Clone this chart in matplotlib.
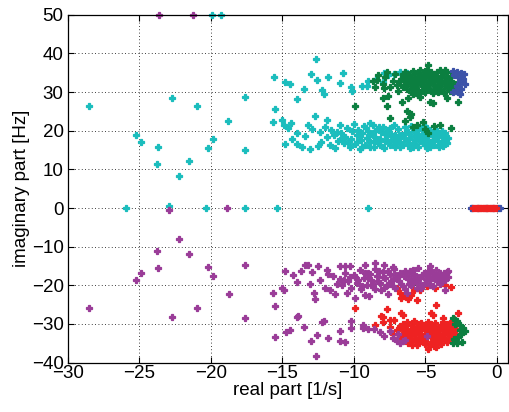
import matplotlib
matplotlib.use("Agg")
import matplotlib.pyplot as plt

# pole estimates (real part [1/s], imaginary part [Hz])
cyan_pts = [
    (-28.5, 26.3), (-22.7, 28.6), (-21.0, 26.3), (-17.6, 28.8), (-25.2, 18.9), (-24.9, 17.0),
    (-23.7, 15.8), (-23.8, 11.3), (-22.25, 8.4), (-21.5, 12.1), (-20.2, 15.5), (-19.85, 17.9),
    (-18.8, 22.6), (-17.6, 15.0), (-15.6, 33.8), (-15.5, 25.7), (-15.65, 22.3), (-14.8, 32.6),
    (-14.5, 32.2), (-13.95, 28.3), (-13.5, 30.9), (-13.0, 34.7), (-12.65, 38.6), (-12.6, 33.1),
    (-12.2, 30.5), (-12.1, 29.6), (-11.8, 33.8), (-11.0, 32.3), (-10.75, 35.0), (-10.2, 31.2),
    (-10.1, 30.4), (-9.4, 31.6), (-9.1, 31.6), (-8.45, 33.5), (-8.0, 32.5), (-7.65, 34.4),
    (-7.2, 34.7), (-6.8, 35.3), (-6.3, 35.0), (-5.0, 33.3), (-9.0, 33.0), (-7.9, 34.9),
    (-19.9, 50), (-19.3, 50),
    (-25.9, 0), (-22.9, 0.6), (-20.35, 0), (-17.6, 0), (-15.35, 0), (-9.0, 0),
    (-15.0, 22.8), (-14.9, 21.4), (-14.6, 20.7), (-14.4, 22.0), (-14.3, 17.9), (-14.0, 19.4),
    (-14.0, 16.6), (-13.4, 18.7), (-13.1, 15.2), (-12.7, 23.9), (-14.85, 16.5), (-11.9, 22.8),
    (-13.6, 15.9), (-12.9, 20.5), (-12.5, 16.0), (-13.2, 21.6),
    (-12.4, 19.8), (-12.3, 17.1), (-12.0, 21.0), (-11.9, 18.3), (-11.7, 16.2), (-11.6, 20.1),
    (-11.4, 18.9), (-11.3, 15.5), (-11.1, 17.4), (-11.0, 21.6), (-10.9, 19.5), (-10.7, 16.8),
    (-10.6, 18.4), (-10.5, 20.6), (-10.3, 15.7), (-10.2, 17.9), (-10.1, 19.9), (-10.0, 21.8),
    (-9.9, 16.5), (-9.8, 18.8), (-9.7, 20.3), (-9.6, 15.3), (-9.5, 17.5), (-9.4, 19.4),
    (-9.3, 21.1), (-9.2, 16.3), (-9.1, 18.1), (-9.0, 20.0), (-8.9, 17.0), (-8.8, 19.2),
    (-8.7, 21.5), (-8.6, 15.8), (-8.5, 18.5), (-8.4, 20.4), (-8.3, 16.9), (-8.2, 17.9),
    (-8.1, 19.6), (-8.0, 21.0), (-7.9, 15.6), (-7.8, 17.3), (-7.7, 18.7), (-7.6, 20.1),
    (-7.5, 16.4), (-7.4, 19.2), (-7.3, 17.8), (-7.2, 21.4), (-7.1, 15.9), (-7.0, 18.3),
    (-6.9, 20.4), (-6.8, 17.1), (-6.7, 19.0), (-6.6, 16.2), (-6.5, 18.0), (-6.4, 20.9),
    (-6.3, 17.4), (-6.2, 19.6), (-6.1, 15.6), (-6.0, 18.6), (-5.9, 16.8), (-5.8, 20.0),
    (-5.7, 17.7), (-5.6, 19.1), (-5.5, 15.8), (-5.4, 18.2), (-5.3, 20.6), (-5.2, 16.9),
    (-5.1, 19.4), (-5.0, 17.6), (-4.9, 15.6), (-4.8, 18.7), (-4.7, 20.2), (-4.6, 17.0),
    (-4.5, 19.0), (-4.4, 16.2), (-4.3, 18.1), (-4.2, 20.0), (-4.1, 17.3), (-4.0, 19.2),
    (-3.9, 16.6), (-3.8, 18.4), (-3.7, 17.5), (-3.6, 19.5), (-3.5, 16.8), (-3.4, 18.0),
    (-8.95, 18.9), (-8.25, 20.9), (-7.55, 17.0), (-6.85, 18.6), (-6.25, 16.5), (-5.65, 18.4),
    (-5.05, 16.4), (-4.45, 17.6), (-3.85, 19.9), (-7.05, 16.7), (-5.35, 17.3), (-4.65, 15.9),
    (-9.75, 17.2), (-9.45, 15.9), (-9.15, 20.6), (-8.85, 15.9), (-8.55, 19.9), (-8.15, 16.3),
    (-7.85, 19.2), (-7.45, 20.8), (-7.15, 18.9), (-6.75, 15.8), (-6.45, 19.5), (-6.15, 17.9),
    (-5.85, 15.9), (-5.55, 20.3), (-5.25, 18.6), (-4.95, 20.6), (-4.75, 16.8), (-4.35, 19.6),
    (-4.05, 15.9), (-3.75, 16.1), (-3.55, 17.9), (-8.6, 17.3), (-7.0, 17.2), (-5.75, 16.5),
    (-4.15, 18.6), (-10.4, 17.2), (-10.8, 18.0), (-11.2, 19.7), (-9.55, 18.6), (-6.0, 21.2),
    (-5.05, 21.1), (-8.9, 21.9),
]

green_upper = [
    (-6.4, 35.2), (-5.9, 35.5), (-5.5, 35.0), (-5.0, 35.4), (-4.6, 35.1), (-4.2, 35.3),
    (-3.8, 35.0), (-3.5, 35.2), (-6.6, 34.0), (-6.2, 34.3), (-5.8, 33.9), (-5.4, 34.2),
    (-5.0, 34.0), (-4.7, 34.4), (-4.3, 33.9), (-3.9, 34.2), (-3.5, 33.8), (-3.2, 34.1),
    (-6.8, 33.0), (-6.4, 32.8), (-6.0, 33.2), (-5.6, 32.9), (-5.2, 33.1), (-4.8, 32.7),
    (-4.4, 33.2), (-4.0, 32.9), (-3.6, 33.0), (-3.2, 32.8), (-6.5, 31.8), (-6.1, 32.1),
    (-5.7, 31.7), (-5.3, 32.0), (-4.9, 31.8), (-4.5, 32.1), (-4.1, 31.8), (-3.7, 32.0),
    (-3.3, 31.7), (-2.9, 32.2), (-6.3, 30.9), (-5.9, 31.0), (-5.5, 30.6), (-5.1, 30.9),
    (-4.7, 30.5), (-4.3, 30.9), (-3.9, 30.7), (-3.5, 31.0), (-3.1, 30.8), (-6.0, 30.0),
    (-5.5, 29.8), (-5.0, 30.1), (-4.5, 29.7), (-4.1, 30.0), (-3.7, 29.8),
    (-6.2, 34.8), (-5.7, 34.6), (-5.2, 34.7), (-4.9, 35.8), (-4.4, 34.6), (-4.0, 35.6),
    (-3.7, 34.7), (-6.0, 33.6), (-5.5, 33.5), (-4.6, 33.6), (-4.2, 33.5), (-3.4, 33.4),
    (-6.3, 32.4), (-5.4, 32.4), (-4.7, 32.3), (-3.9, 32.4), (-3.5, 32.5), (-5.8, 31.3),
    (-5.0, 31.4), (-4.2, 31.3), (-3.4, 31.4), (-5.2, 30.4), (-4.4, 30.3),
    (-6.55, 34.7), (-6.35, 33.4), (-5.75, 32.3), (-5.25, 33.6), (-4.85, 34.8), (-4.5, 33.0),
    (-3.95, 33.7), (-3.45, 32.0), (-5.65, 30.2), (-4.85, 30.7), (-4.05, 30.4), (-3.3, 30.3),
    (-5.35, 35.7), (-6.6, 31.3), (-5.9, 29.4), (-3.6, 35.7),
    (-8.7, 33.0), (-8.3, 34.5), (-8.0, 32.0), (-7.8, 33.8), (-7.5, 31.2), (-7.3, 32.8),
    (-7.1, 34.6), (-7.0, 31.8), (-6.9, 30.4), (-6.7, 33.5), (-7.7, 35.3), (-8.4, 33.2),
    (-8.5, 31.4), (-7.9, 31.0), (-4.8, 37.0),
    (-7.95, 28.4), (-7.6, 28.9), (-6.65, 27.5), (-5.5, 29.2), (-5.4, 28.8), (-4.7, 27.5),
    (-4.5, 27.2), (-3.5, 28.4), (-2.7, 27.5), (-9.93, 26.3), (-7.7, 26.5), (-6.2, 28.6),
    (-7.5, 23.4), (-6.3, 25.0), (-6.1, 23.5), (-6.0, 24.4), (-5.6, 21.5), (-5.2, 22.2),
    (-5.0, 20.5), (-4.4, 21.3), (-4.0, 21.4), (-3.2, 20.8), (-4.8, 19.5), (-6.4, 22.5),
    (-5.9, 21.0),
]

blue_upper = [
    (-3.1, 35.5), (-2.8, 35.3), (-2.5, 35.0), (-2.3, 34.6), (-3.0, 34.4), (-2.7, 34.0),
    (-2.4, 33.5), (-2.6, 32.7), (-2.2, 32.0), (-2.8, 31.5), (-2.5, 30.9), (-2.85, 30.2),
    (-3.1, 29.9), (-2.6, 29.6),
]

blue_axis_x = [-1.8, -1.75, -1.3, -0.8, -0.3, 0.1, 0.2]
red_axis_x = [-1.7, -1.55, -1.4, -1.3, -1.2, -1.1, -1.0, -0.9, -0.8, -0.7, -0.6, -0.5,
              -0.4, -0.3, -0.2, -0.1]

red_pts = [
    (-6.3, -29.6), (-5.8, -29.3), (-5.3, -29.7), (-4.8, -29.4), (-4.3, -29.8), (-3.8, -29.5),
    (-3.3, -29.7), (-6.8, -30.5), (-6.4, -30.8), (-6.0, -30.3), (-5.6, -30.7), (-5.2, -30.4),
    (-4.8, -30.8), (-4.4, -30.5), (-4.0, -30.8), (-3.6, -30.4), (-3.2, -30.7), (-2.9, -30.3),
    (-7.0, -31.6), (-6.6, -31.4), (-6.2, -31.8), (-5.8, -31.5), (-5.4, -31.7), (-5.0, -31.4),
    (-4.6, -31.8), (-4.2, -31.5), (-3.8, -31.7), (-3.4, -31.4), (-3.0, -31.8), (-6.9, -32.6),
    (-6.5, -32.4), (-6.1, -32.8), (-5.7, -32.5), (-5.3, -32.7), (-4.9, -32.4), (-4.5, -32.8),
    (-4.1, -32.5), (-3.7, -32.7), (-3.3, -32.4), (-2.9, -32.6), (-6.6, -33.6), (-6.2, -33.4),
    (-5.8, -33.7), (-5.4, -33.5), (-5.0, -33.8), (-4.6, -33.4), (-4.2, -33.7), (-3.8, -33.5),
    (-3.4, -33.6), (-3.0, -33.4), (-6.0, -34.5), (-5.5, -34.8), (-5.0, -34.4), (-4.5, -34.7),
    (-4.0, -34.5), (-3.5, -34.6), (-5.6, -35.5), (-5.0, -35.3), (-4.4, -35.6), (-3.9, -35.3),
    (-6.6, -30.1), (-5.5, -30.0), (-4.6, -30.0), (-3.5, -30.0), (-6.4, -31.2), (-5.2, -31.1),
    (-4.0, -31.2), (-3.1, -31.1), (-6.0, -32.1), (-4.7, -32.1), (-3.5, -32.1), (-6.3, -33.1),
    (-5.1, -33.0), (-3.9, -33.1), (-5.7, -34.1), (-4.3, -34.1), (-3.2, -34.0),
    (-6.8, -31.0), (-6.4, -32.0), (-6.8, -33.1), (-5.9, -31.0), (-5.6, -32.0), (-5.3, -33.3),
    (-4.9, -30.3), (-4.5, -31.2), (-4.3, -32.3), (-3.9, -30.2), (-3.6, -31.2), (-3.2, -33.1),
    (-2.85, -31.4), (-5.3, -34.5), (-4.7, -35.1), (-4.1, -34.8), (-6.2, -34.9), (-3.6, -34.1),
    (-5.95, -35.4), (-4.25, -36.1),
    (-9.9, -25.8), (-8.1, -28.0), (-7.95, -28.3), (-7.5, -29.0), (-6.7, -27.1), (-6.6, -27.6),
    (-4.25, -25.0), (-4.6, -27.1), (-4.45, -27.7), (-2.7, -27.1), (-8.5, -30.2), (-4.8, -36.4),
    (-7.7, -26.1), (-8.0, -29.5), (-7.2, -29.0), (-7.5, -30.8), (-7.3, -32.5), (-3.0, -28.7),
    (-3.8, -28.4),
    (-7.0, -20.6), (-6.8, -22.0), (-6.5, -22.8), (-6.2, -23.6), (-6.0, -22.4), (-5.8, -21.2),
    (-5.4, -21.1), (-4.9, -20.3), (-4.3, -20.8), (-3.2, -20.4), (-3.6, -19.8), (-5.6, -23.9),
    (-6.7, -23.3),
]

purple_pts = [
    (-28.5, -25.9), (-25.25, -18.6), (-24.9, -16.8), (-23.7, -15.5), (-23.8, -11.0),
    (-22.25, -8.1), (-21.5, -11.8), (-22.7, -28.3), (-21.0, -25.9), (-20.2, -15.2),
    (-19.85, -17.6), (-18.75, -22.3), (-17.6, -14.7), (-17.6, -28.5), (-15.65, -22.0),
    (-15.5, -25.4), (-15.55, -33.5), (-15.0, -20.7), (-14.9, -21.1), (-14.85, -16.3),
    (-14.75, -32.1), (-14.5, -31.7), (-13.95, -28.1), (-13.5, -30.7), (-13.0, -34.4),
    (-12.65, -38.2), (-12.6, -32.8), (-12.2, -29.6), (-12.1, -29.2), (-12.7, -23.5),
    (-11.8, -33.6), (-11.0, -34.5), (-10.6, -34.6), (-11.0, -31.9), (-10.2, -31.0),
    (-10.2, -29.3),
    (-23.65, 50), (-21.25, 50), (-22.9, -0.4), (-18.9, 0),
    (-9.35, -31.0), (-9.0, -31.4), (-8.6, -31.2), (-9.35, -30.2), (-8.2, -32.0), (-7.9, -33.0),
    (-7.5, -31.9), (-7.3, -33.6), (-7.0, -34.3), (-6.8, -34.9), (-6.6, -34.5), (-6.9, -32.5),
    (-6.4, -34.2), (-4.9, -33.2),
    (-13.4, -14.8), (-13.2, -14.8), (-14.25, -17.4), (-14.0, -19.1), (-13.9, -28.0),
    (-11.0, -15.1), (-10.6, -15.1), (-10.3, -15.1), (-11.8, -17.2), (-11.45, -17.7),
    (-12.0, -20.7), (-11.7, -21.1), (-11.3, -22.3), (-12.9, -16.5), (-12.4, -18.6),
    (-13.1, -19.6), (-12.5, -14.9), (-11.9, -16.0), (-13.7, -16.2), (-12.8, -21.9),
    (-9.2, -22.4), (-8.95, -22.8), (-10.5, -22.0), (-9.9, -23.2), (-8.5, -14.2), (-9.2, -14.7),
    (-7.9, -14.8), (-7.3, -15.3), (-4.7, -15.1), (-3.5, -16.6), (-4.0, -19.4), (-3.6, -21.1),
    (-6.3, -22.0), (-7.6, -22.2),
    (-11.0, -18.3), (-10.8, -19.9), (-10.6, -16.7), (-10.4, -18.9), (-10.2, -20.7),
    (-10.0, -17.4), (-9.8, -19.3), (-9.6, -16.1), (-9.5, -21.0), (-9.3, -18.0), (-9.1, -19.8),
    (-9.0, -16.9), (-8.8, -18.6), (-8.7, -20.5), (-8.5, -15.8), (-8.4, -17.6), (-8.2, -19.4),
    (-8.1, -21.1), (-8.0, -16.6), (-7.8, -18.2), (-7.7, -20.0), (-7.5, -17.1), (-7.4, -19.0),
    (-7.2, -15.9), (-7.1, -20.8), (-7.0, -18.1), (-6.8, -16.8), (-6.7, -19.6), (-6.5, -17.6),
    (-6.4, -21.0), (-6.2, -18.5), (-6.1, -16.2), (-6.0, -20.0), (-5.8, -17.2), (-5.7, -19.0),
    (-5.5, -15.6), (-5.4, -18.0), (-5.3, -20.6), (-5.1, -16.8), (-5.0, -19.4), (-4.9, -17.6),
    (-4.7, -18.6), (-4.6, -16.2), (-4.5, -20.1), (-4.3, -17.3), (-4.2, -19.0), (-4.0, -16.7),
    (-3.9, -18.1), (-3.8, -17.4), (-3.6, -18.6),
    (-9.9, -17.8), (-9.4, -20.3), (-8.9, -17.2), (-8.3, -18.8), (-7.9, -20.6), (-7.6, -16.4),
    (-7.3, -18.7), (-6.9, -17.5), (-6.6, -20.3), (-6.3, -16.9), (-5.9, -18.9), (-5.6, -17.8),
    (-5.2, -19.9), (-4.8, -16.4), (-4.4, -18.2), (-4.1, -17.9), (-3.7, -16.9), (-3.4, -17.9),
    (-9.7, -18.6), (-9.2, -16.7), (-8.7, -19.6), (-8.25, -16.2), (-7.95, -17.9), (-7.55, -19.6),
    (-7.15, -17.3), (-6.85, -19.0), (-6.45, -16.3), (-6.15, -19.6), (-5.85, -16.0), (-5.5, -19.3),
    (-5.25, -17.4), (-4.95, -18.3), (-4.55, -17.0), (-4.25, -16.1), (-3.95, -19.6), (-3.7, -18.2),
    (-10.3, -17.9), (-10.7, -18.6), (-9.0, -18.2), (-7.3, -20.3), (-6.0, -17.6), (-4.7, -19.9),
    (-5.6, -20.7), (-8.5, -21.0), (-11.2, -19.6), (-3.45, -16.2),
]

green_lower = [
    (-3.05, -28.4), (-2.8, -29.3), (-2.6, -30.2), (-2.4, -31.0), (-2.25, -31.9), (-2.5, -32.6),
    (-2.7, -33.3), (-3.0, -34.0), (-3.1, -34.9), (-2.8, -34.9), (-2.45, -34.7), (-2.6, -31.5),
    (-2.9, -29.9),
]

CYAN = "#1bbdbd"
GREEN = "#0b7f40"
BLUE = "#3c52a8"
PURPLE = "#9a3c98"
RED = "#ee2222"

plt.rcParams["font.family"] = ["Liberation Sans", "DejaVu Sans"]

fig = plt.figure(figsize=(5.1, 4.12), dpi=100)
ax = fig.add_axes([0.133, 0.12, 0.863, 0.844])


def pts(ax, data, color):
    xs = [p[0] for p in data]
    ys = [p[1] for p in data]
    ax.plot(xs, ys, linestyle="none", marker="P", markersize=5.0,
            markeredgewidth=0.9, color=color, clip_on=False)


pts(ax, cyan_pts, CYAN)
pts(ax, green_upper, GREEN)
pts(ax, blue_upper, BLUE)
pts(ax, [(x, 0) for x in blue_axis_x], BLUE)
pts(ax, [(x, 0) for x in red_axis_x], RED)
pts(ax, red_pts, RED)
pts(ax, purple_pts, PURPLE)
pts(ax, green_lower, GREEN)

ax.set_xlim(-30, 0.77)
ax.set_ylim(-40, 50)
ax.set_xticks(range(-30, 1, 5))
ax.set_yticks(range(-40, 51, 10))
ax.grid(True, color="k", linestyle=(0, (1, 3)), linewidth=0.6)
ax.set_axisbelow(True)
ax.tick_params(direction="in", length=4, width=0.8, labelsize=13.5, pad=3,
               top=True, right=True)
ax.tick_params(axis="x", pad=1.5)
for s in ax.spines.values():
    s.set_linewidth(0.9)
ax.set_xlabel("real part [1/s]", fontsize=13.5, labelpad=0)
ax.set_ylabel("imaginary part [Hz]", fontsize=13.5, labelpad=1)

fig.savefig("out.png", dpi=100)
